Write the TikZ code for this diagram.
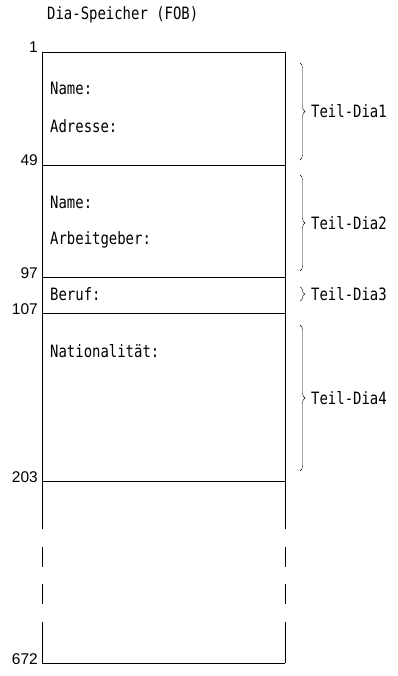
\documentclass[tikz,border=0pt]{standalone}
\usepackage{fontspec}
\setmonofont{DejaVu Sans Mono}[FakeStretch=0.82]
\newfontfamily\numfont{Liberation Sans}
\usetikzlibrary{decorations.pathreplacing}

\begin{document}
\begin{tikzpicture}
    [x=1pt,y=-1pt,
    every node/.style={inner sep=0pt},
    feld/.style={anchor=base west,font=\ttfamily\fontsize{17}{19}\selectfont},
    adr/.style={anchor=base east,font=\numfont\fontsize{15.5}{17}\selectfont},
    klammer/.style={decorate,decoration={brace,amplitude=5pt},thin},
    wand/.style={line width=0.6pt}]

    \useasboundingbox (0,0) rectangle (398,676);

    \node[feld] (titel) at (47,20) {Dia-Speicher (FOB)};

    % Grenzen der Teil-Dias mit Adressen
    \foreach \y/\n in {52/1, 165/49, 277/97, 313/107, 481/203, 663/672} {
        \coordinate (l\n) at (42,\y);
        \coordinate (r\n) at (285,\y);
        \draw[wand] (l\n) -- (r\n);
        \node[adr] (a\n) at (38,\y+1) {\n};
    }

    % Seitenwaende, unten unterbrochen
    \foreach \x in {42,285} {
        \draw[wand] (\x,52) -- (\x,529);
        \draw[wand] (\x,547) -- (\x,567);
        \draw[wand] (\x,584) -- (\x,604);
        \draw[wand] (\x,622) -- (\x,663);
    }

    \node[feld] (name1) at (50,95) {Name:};
    \node[feld] (adresse) at (50,133) {Adresse:};
    \node[feld] (name2) at (50,208) {Name:};
    \node[feld] (arbeitg) at (50,244) {Arbeitgeber:};
    \node[feld] (beruf) at (50,300) {Beruf:};
    \node[feld] (nation) at (50,357) {Nationalität:};

    % Klammern rechts
    \draw[klammer] (300,63) -- (300,160) node[midway,right=11pt,feld,anchor=west] (td1) {Teil-Dia1};
    \draw[klammer] (300,175) -- (300,271) node[midway,right=11pt,feld,anchor=west] (td2) {Teil-Dia2};
    \draw[klammer] (300,287) -- (300,301) node[midway,right=11pt,feld,anchor=west] (td3) {Teil-Dia3};
    \draw[klammer] (300,325) -- (300,471) node[midway,right=11pt,feld,anchor=west] (td4) {Teil-Dia4};
\end{tikzpicture}
\end{document}
